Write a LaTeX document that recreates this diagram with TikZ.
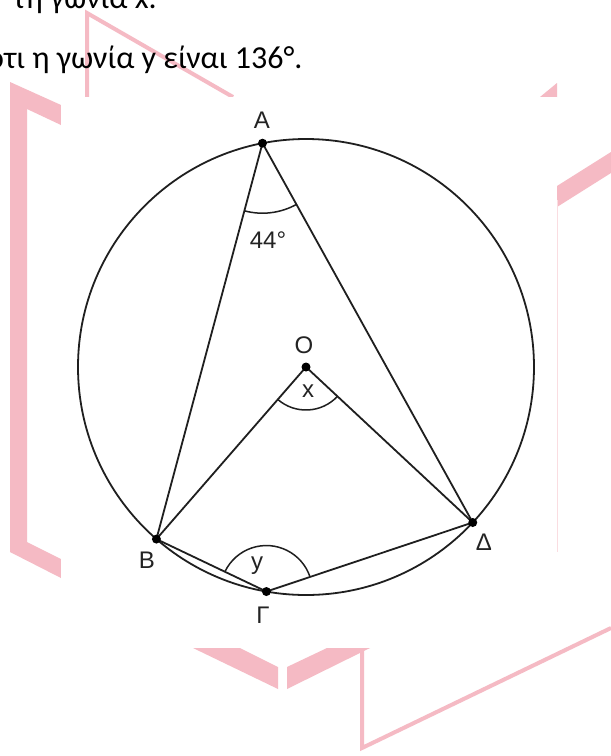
\documentclass[tikz,border=0pt]{standalone}
\usepackage{fontspec}
\setmainfont{Carlito}
\newfontfamily\lblfont{Liberation Sans}
\usetikzlibrary{angles,calc}
\definecolor{wmpink}{RGB}{245,186,196}
\definecolor{inkgray}{RGB}{35,35,35}
\begin{document}
\begin{tikzpicture}[x=1pt,y=1pt,
  wm/.style={fill=wmpink, draw=none},
  wmline/.style={draw=wmpink, line width=4pt},
  geo/.style={draw=black!88, line width=1.8pt},
  angarc/.style={draw=black!88, line width=1.5pt},
  dot/.style={circle, fill=black, inner sep=0pt, minimum size=9pt},
  lbl/.style={font=\lblfont\fontsize{24}{24}\selectfont, text=inkgray, inner sep=0pt},
  txt/.style={font=\fontsize{32}{38}\selectfont, anchor=base west, inner sep=0pt}]
\useasboundingbox (0,0) rectangle (611,-756);
\fill[white] (0,0) rectangle (611,-756);
% watermark shapes
\fill[wm] (61,-105) -- (10,-82) -- (10,-552) -- (61,-578) -- (61,-559) -- (27,-542) -- (27,-109) -- (61,-125) -- cycle;
\fill[wm] (557,-186) -- (611,-152) -- (611,-173) -- (557,-207) -- cycle;
\fill[wm] (540,-97) -- (557,-83) -- (557,-97) -- cycle;
\fill[wm] (193,-648) -- (240,-648) -- (278,-667) -- (278,-689) -- cycle;
\fill[wm] (287,-689) -- (370,-648) -- (327,-648) -- (287,-667) -- cycle;
\coordinate (w1) at (87,-97);
\coordinate (w2) at (87,-13);
\coordinate (w3) at (233,-97);
\draw[wmline, line join=miter] (w1) -- (w2) -- (w3);
\coordinate (w4) at (362,-648);
\coordinate (w5) at (362,-748);
\coordinate (w6) at (611,-628);
\draw[wmline, line join=miter] (w4) -- (w5) -- (w6);
% white panel
\fill[white] (61,-97) rectangle (557,-648);
\coordinate (p1) at (557,-200);
\coordinate (p2) at (557,-552);
\draw[draw=wmpink!50, line width=0.6pt] (p1) -- (p2);
% text
\node[txt] (t1) at (13,-8) {τη γωνία x.};
\node[txt] (t2) at (-13,-68) {ότι η γωνία y είναι 136°.};
% geometry
\coordinate (O) at (306,-367);
\coordinate (A) at ($(O)+(101:228)$);
\coordinate (B) at ($(O)+(229:228)$);
\coordinate (G) at ($(O)+(260:228)$);
\coordinate (D) at ($(O)+(317:228)$);
\draw[geo] (O) circle (228);
\draw[geo] (A) -- (B);
\draw[geo] (A) -- (D);
\draw[geo] (O) -- (B);
\draw[geo] (O) -- (D);
\draw[geo] (B) -- (G);
\draw[geo] (G) -- (D);
\pic[angarc, angle radius=70pt] {angle=B--A--D};
\pic[angarc, angle radius=43pt] {angle=B--O--D};
\pic[angarc, angle radius=46pt] {angle=D--G--B};
\node[dot] (dA) at (A) {};
\node[dot] (dB) at (B) {};
\node[dot] (dG) at (G) {};
\node[dot] (dD) at (D) {};
\node[dot] (dO) at (O) {};
% labels
\node[lbl] (lA) at (262,-120) {A};
\node[lbl] (lB) at (147,-560) {B};
\node[lbl] (lG) at (263,-615) {Γ};
\node[lbl] (lD) at (484,-542) {Δ};
\node[lbl] (lO) at (304,-345) {O};
\node[lbl] (lx) at (308,-391) {x};
\node[lbl] (ly) at (257,-566) {y};
\node[lbl] (l44) at (268,-240) {44°};
\end{tikzpicture}
\end{document}
